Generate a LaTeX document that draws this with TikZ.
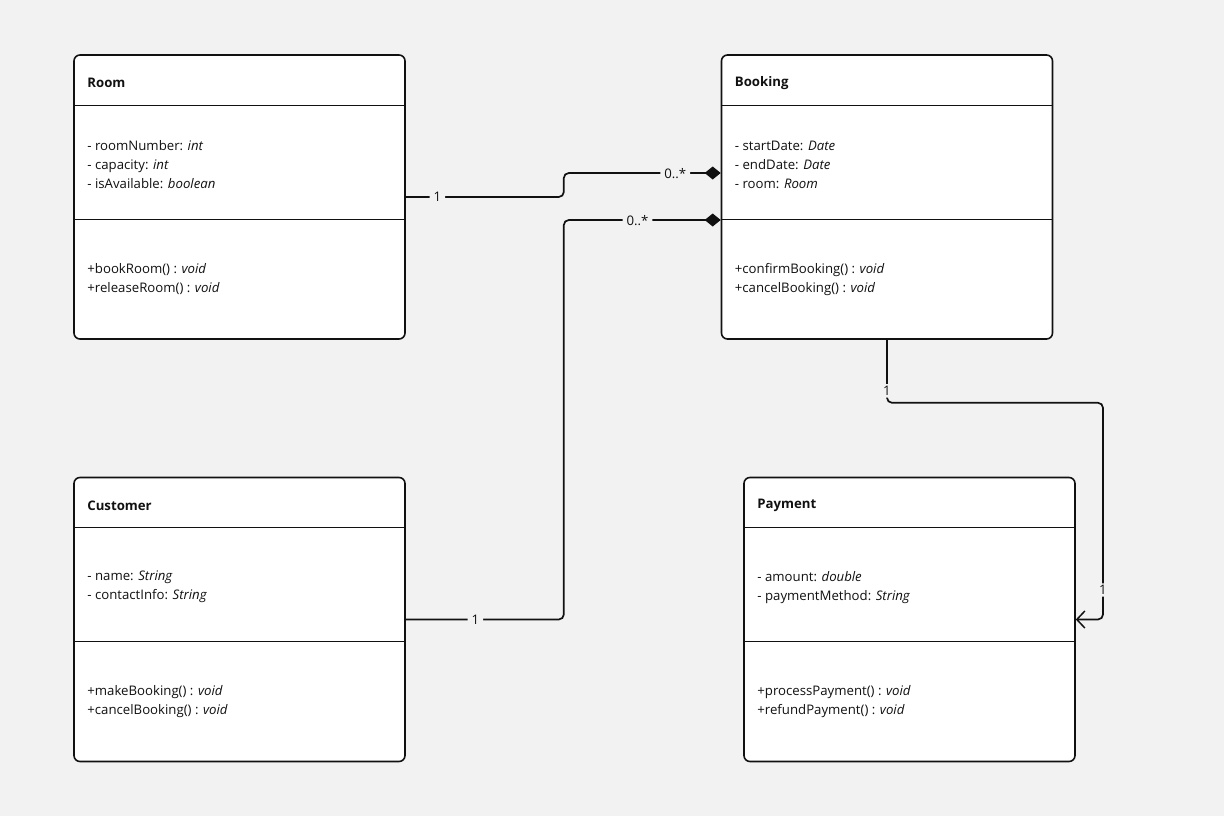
\documentclass[tikz,border=0pt]{standalone}
\usepackage{fontspec}
\setmainfont{Open Sans}
\usetikzlibrary{arrows.meta}
\definecolor{canvas}{RGB}{242,242,242}
\definecolor{ink}{RGB}{17,17,17}
\begin{document}
\begin{tikzpicture}[x=1pt,y=-1pt,
  cls/.style={draw=ink, fill=white, line width=1.6pt, rounded corners=6pt,
    minimum width=331pt, minimum height=284pt, inner sep=0pt},
  div/.style={draw=ink, line width=1.3pt},
  title/.style={anchor=west, inner sep=0pt, font=\fontsize{13.2}{19}\selectfont\bfseries, text=ink},
  members/.style={anchor=west, inner sep=0pt, align=left, font=\fontsize{13.2}{19}\selectfont, text=ink},
  assoc/.style={draw=ink, line width=1.7pt, rounded corners=5pt},
  lbl/.style={fill=canvas, inner sep=4pt, font=\fontsize{13.2}{14}\selectfont, text=ink},
  comp/.style={-{Diamond[length=16pt,width=13pt,fill=ink]}},
  nav/.style={-{Straight Barb[length=8pt,width=17pt,line width=1.5pt]}}
]
\fill[canvas] (0,0) rectangle (1224,816);
\useasboundingbox (0,0) rectangle (1224,816);

% class boxes
\node[cls] (room)     at (239.5,197)   {};
\node[cls] (booking)  at (887,197)     {};
\node[cls] (customer) at (239.5,619.5) {};
\node[cls] (payment)  at (909.5,619.5) {};

% compartment dividers
\foreach \c in {room,booking,customer,payment}{
  \draw[div] ([yshift=-51pt]\c.north west) -- ([yshift=-51pt]\c.north east);
  \draw[div] ([yshift=-165pt]\c.north west) -- ([yshift=-165pt]\c.north east);
}

% Room
\node[title] (roomT) at ([xshift=14pt,yshift=-29pt]room.north west) {Room};
\node[members] (roomA) at ([xshift=14pt,yshift=-110.5pt]room.north west)
  {- roomNumber: \textit{int}\\- capacity: \textit{int}\\- isAvailable: \textit{boolean}};
\node[members] (roomM) at ([xshift=14pt,yshift=-225pt]room.north west)
  {+bookRoom() : \textit{void}\\+releaseRoom() : \textit{void}};

% Booking
\node[title] (bookingT) at ([xshift=14pt,yshift=-29pt]booking.north west) {Booking};
\node[members] (bookingA) at ([xshift=14pt,yshift=-110.5pt]booking.north west)
  {- startDate: \textit{Date}\\- endDate: \textit{Date}\\- room: \textit{Room}};
\node[members] (bookingM) at ([xshift=14pt,yshift=-225pt]booking.north west)
  {+confirmBooking() : \textit{void}\\+cancelBooking() : \textit{void}};

% Customer
\node[title] (customerT) at ([xshift=14pt,yshift=-29pt]customer.north west) {Customer};
\node[members] (customerA) at ([xshift=14pt,yshift=-110.5pt]customer.north west)
  {- name: \textit{String}\\- contactInfo: \textit{String}};
\node[members] (customerM) at ([xshift=14pt,yshift=-225pt]customer.north west)
  {+makeBooking() : \textit{void}\\+cancelBooking() : \textit{void}};

% Payment
\node[title] (paymentT) at ([xshift=14pt,yshift=-29pt]payment.north west) {Payment};
\node[members] (paymentA) at ([xshift=14pt,yshift=-110.5pt]payment.north west)
  {- amount: \textit{double}\\- paymentMethod: \textit{String}};
\node[members] (paymentM) at ([xshift=14pt,yshift=-225pt]payment.north west)
  {+processPayment() : \textit{void}\\+refundPayment() : \textit{void}};

% associations
\draw[assoc,comp] (room.east)
  -- node[lbl,pos=0.2]{1} ++(158,0)
  |- node[lbl,pos=0.855,yshift=-1pt]{0..*} ([yshift=24pt]booking.west);
\draw[assoc,comp] (customer.east)
  -- node[lbl,pos=0.44]{1} ++(158,0)
  |- node[lbl,pos=0.735,yshift=-1pt]{0..*} ([yshift=-23pt]booking.west);
\draw[assoc,nav] (booking.south)
  -- node[lbl,pos=0.81,inner sep=2pt]{1} ++(0,63)
  -- ++(216,0)
  |- node[lbl,pos=0.432,inner sep=2pt]{1} (payment.east);
\end{tikzpicture}
\end{document}
